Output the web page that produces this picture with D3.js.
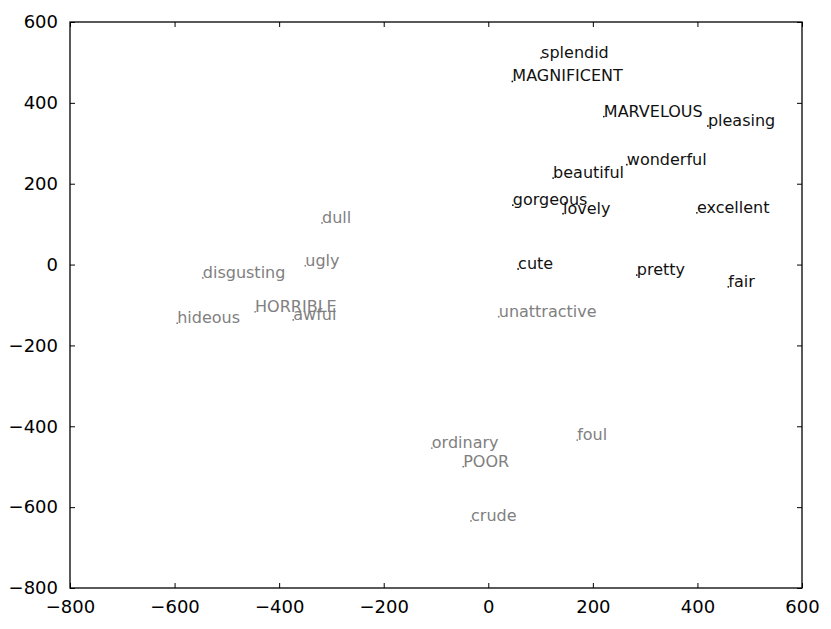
<!DOCTYPE html>
<html>
<head>
<meta charset="utf-8">
<script src="https://cdn.jsdelivr.net/npm/d3@7"></script>
<style>
  html, body { margin: 0; padding: 0; background: #fff; }
  svg { display: block; }
</style>
</head>
<body>
<script>
// ---- data ----
const words = ["splendid","MAGNIFICENT","MARVELOUS","pleasing","wonderful","beautiful","gorgeous","lovely","excellent","cute","pretty","fair",
               "unattractive","dull","ugly","disgusting","HORRIBLE","awful","hideous","ordinary","POOR","foul","crude"];
const xs = [101, 46, 221, 420, 265, 124, 47, 143, 399, 57, 284, 459,
            20, -318, -350, -546, -446, -373, -595, -108, -48, 170, -33];
const ys = [511, 453, 366, 343, 247, 214, 147, 126, 128, -11, -26, -55,
            -129, 103, -3, -33, -117, -137, -145, -454, -500, -434, -634];
const groups = ["pos","pos","pos","pos","pos","pos","pos","pos","pos","pos","pos","pos",
                "neg","neg","neg","neg","neg","neg","neg","neg","neg","neg","neg"];
const xTicks = [-800, -600, -400, -200, 0, 200, 400, 600];
const yTicks = [-800, -600, -400, -200, 0, 200, 400, 600];

const W = 831, H = 629;
const m = { left: 70, right: 29, top: 22, bottom: 41 };
const iw = W - m.left - m.right, ih = H - m.top - m.bottom;

const svg = d3.select("body").append("svg").attr("width", W).attr("height", H);
const g = svg.append("g").attr("transform", `translate(${m.left},${m.top})`);

const x = d3.scaleLinear().domain([-800, 600]).range([0, iw]);
const y = d3.scaleLinear().domain([-800, 600]).range([ih, 0]);
const color = d3.scaleOrdinal().domain(["pos", "neg"]).range(["#111111", "#808080"]);

const fmt = d => (d < 0 ? "\u2212" + Math.abs(d) : String(d));
const font = "'DejaVu Sans', sans-serif";

function styleAxis(sel, showLabels, fontSize) {
  sel.select(".domain").remove();
  sel.selectAll(".tick line").attr("stroke", "#000").attr("stroke-width", 1);
  sel.selectAll(".tick text")
    .attr("font-family", font).attr("font-size", fontSize).attr("fill", "#000")
    .style("display", showLabels ? null : "none");
}

// bottom axis (ticks inward)
g.append("g").attr("transform", `translate(0,${ih})`)
  .call(d3.axisBottom(x).tickValues(xTicks).tickFormat(fmt).tickSizeInner(-5).tickSizeOuter(0).tickPadding(12))
  .call(s => styleAxis(s, true, 18));
// top axis
g.append("g")
  .call(d3.axisTop(x).tickValues(xTicks).tickSizeInner(-5).tickSizeOuter(0))
  .call(s => styleAxis(s, false, 18));
// left axis
g.append("g")
  .call(d3.axisLeft(y).tickValues(yTicks).tickFormat(fmt).tickSizeInner(-5).tickSizeOuter(0).tickPadding(12))
  .call(s => styleAxis(s, true, 18));
// right axis
g.append("g").attr("transform", `translate(${iw},0)`)
  .call(d3.axisRight(y).tickValues(yTicks).tickSizeInner(-5).tickSizeOuter(0))
  .call(s => styleAxis(s, false, 18));

// frame
g.append("rect").attr("x", 0).attr("y", 0).attr("width", iw).attr("height", ih)
  .attr("fill", "none").attr("stroke", "#000").attr("stroke-width", 1.3);

const data = words.map((w, i) => ({ w, x: xs[i], y: ys[i], g: groups[i] }));

// points
g.selectAll("circle.pt").data(data).enter().append("circle")
  .attr("class", "pt")
  .attr("cx", d => x(d.x)).attr("cy", d => y(d.y)).attr("r", 0.9)
  .attr("fill", d => color(d.g));

// labels
g.selectAll("text.lbl").data(data).enter().append("text")
  .attr("class", "lbl")
  .attr("x", d => x(d.x)).attr("y", d => y(d.y))
  .attr("font-family", font).attr("font-size", 16)
  .attr("fill", d => color(d.g))
  .text(d => d.w);
</script>
</body>
</html>
